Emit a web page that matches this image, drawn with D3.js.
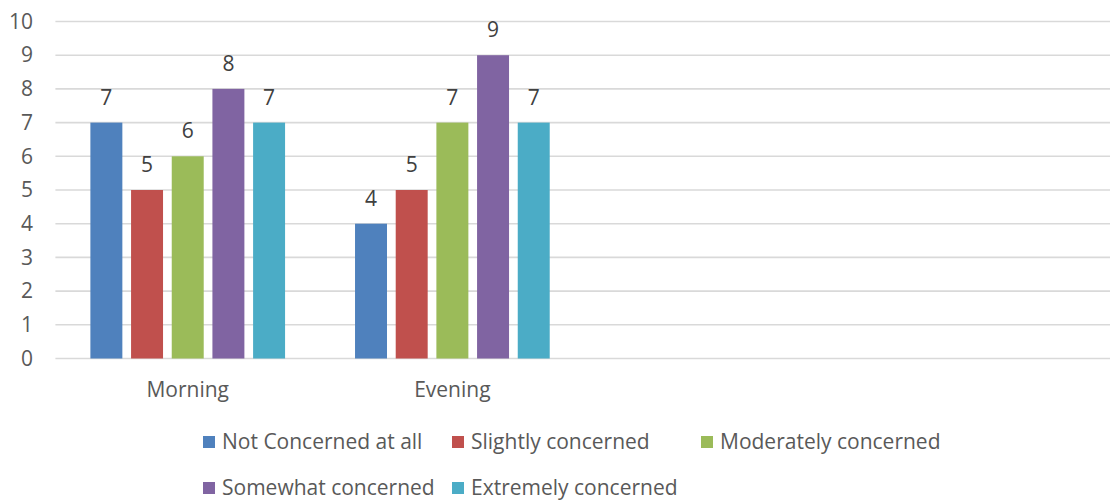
<!DOCTYPE html>
<html>
<head>
<meta charset="utf-8">
<script src="https://cdn.jsdelivr.net/npm/d3@7"></script>
<style>
  html, body { margin: 0; padding: 0; background: #fff; }
  svg { display: block; }
  text { font-family: "Open Sans", "Noto Sans", sans-serif; }
</style>
</head>
<body>
<svg id="chart" width="1110" height="500"></svg>
<script>
// Time-of-day groups (the last two slots are left empty on the axis)
const categories = ["Morning", "Evening", "", ""];
const seriesNames = [
  "Not Concerned at all",
  "Slightly concerned",
  "Moderately concerned",
  "Somewhat concerned",
  "Extremely concerned"
];
const seriesColors = ["#4f81bd", "#c0504d", "#9bbb59", "#8064a2", "#4bacc6"];
// Counts per series, in category order (Morning, Evening)
const notConcerned = [7, 4];
const slightly = [5, 5];
const moderately = [6, 7];
const somewhat = [8, 9];
const extremely = [7, 7];
const yTicks = [0, 1, 2, 3, 4, 5, 6, 7, 8, 9, 10];

const seriesValues = [notConcerned, slightly, moderately, somewhat, extremely];

const svg = d3.select("#chart");
const plot = { left: 55.4, right: 1114, top: 21.5, bottom: 358.5 };

const y = d3.scaleLinear().domain([0, 10]).range([plot.bottom, plot.top]);
const x0 = d3.scaleBand()
  .domain(d3.range(categories.length))
  .range([plot.left, plot.right])
  .paddingInner(0).paddingOuter(0);
const x1 = d3.scaleBand()
  .domain(d3.range(seriesNames.length))
  .range([0, x0.bandwidth()])
  .paddingInner(0.214).paddingOuter(0.86);

// Horizontal gridlines
svg.append("g")
  .selectAll("line")
  .data(yTicks)
  .join("line")
  .attr("x1", plot.left)
  .attr("x2", plot.right)
  .attr("y1", d => y(d))
  .attr("y2", d => y(d))
  .attr("stroke", "#d9d9d9")
  .attr("stroke-width", 1.6);

// Y axis labels
const yAxis = d3.axisLeft(y).tickValues(yTicks).tickSize(0).tickPadding(0);
const yg = svg.append("g").attr("transform", "translate(33,0)").call(yAxis);
yg.select(".domain").remove();
yg.selectAll("text")
  .attr("font-family", "Open Sans, sans-serif")
  .attr("font-size", 21)
  .attr("fill", "#595959");

// X axis labels
const xAxis = d3.axisBottom(x0).tickSize(0).tickPadding(0)
  .tickFormat(i => categories[i]);
const xg = svg.append("g").attr("transform", "translate(0,382)").call(xAxis);
xg.select(".domain").remove();
xg.selectAll("text")
  .attr("font-family", "Open Sans, sans-serif")
  .attr("font-size", 21)
  .attr("fill", "#595959");

// Bars
const groups = svg.append("g")
  .selectAll("g")
  .data(categories.map((c, i) => i).filter(i => seriesValues[0][i] !== undefined))
  .join("g")
  .attr("transform", i => `translate(${x0(i)},0)`);

const cells = groups.selectAll("g")
  .data(i => seriesValues.map((vals, s) => ({ s, v: vals[i] })))
  .join("g");

cells.append("rect")
  .attr("x", d => x1(d.s))
  .attr("width", x1.bandwidth())
  .attr("y", d => y(d.v))
  .attr("height", d => y(0) - y(d.v))
  .attr("fill", d => seriesColors[d.s]);

// Value labels above bars
cells.append("text")
  .attr("x", d => x1(d.s) + x1.bandwidth() / 2)
  .attr("y", d => y(d.v) - 18)
  .attr("text-anchor", "middle")
  .attr("font-size", 21)
  .attr("fill", "#404040")
  .text(d => d.v);

// Legend: three columns, two rows
const legend = svg.append("g");
const colWidth = 249, rowHeight = 46;
const legendItems = legend.selectAll("g")
  .data(seriesNames)
  .join("g")
  .attr("transform", (d, i) => `translate(${203 + (i % 3) * colWidth},${442 + Math.floor(i / 3) * rowHeight})`);
legendItems.append("rect")
  .attr("x", 0).attr("y", -6)
  .attr("width", 12).attr("height", 12)
  .attr("fill", (d, i) => seriesColors[i]);
legendItems.append("text")
  .attr("x", 19)
  .attr("dy", "0.35em")
  .attr("font-size", 21)
  .attr("fill", "#595959")
  .text(d => d);
</script>
</body>
</html>
